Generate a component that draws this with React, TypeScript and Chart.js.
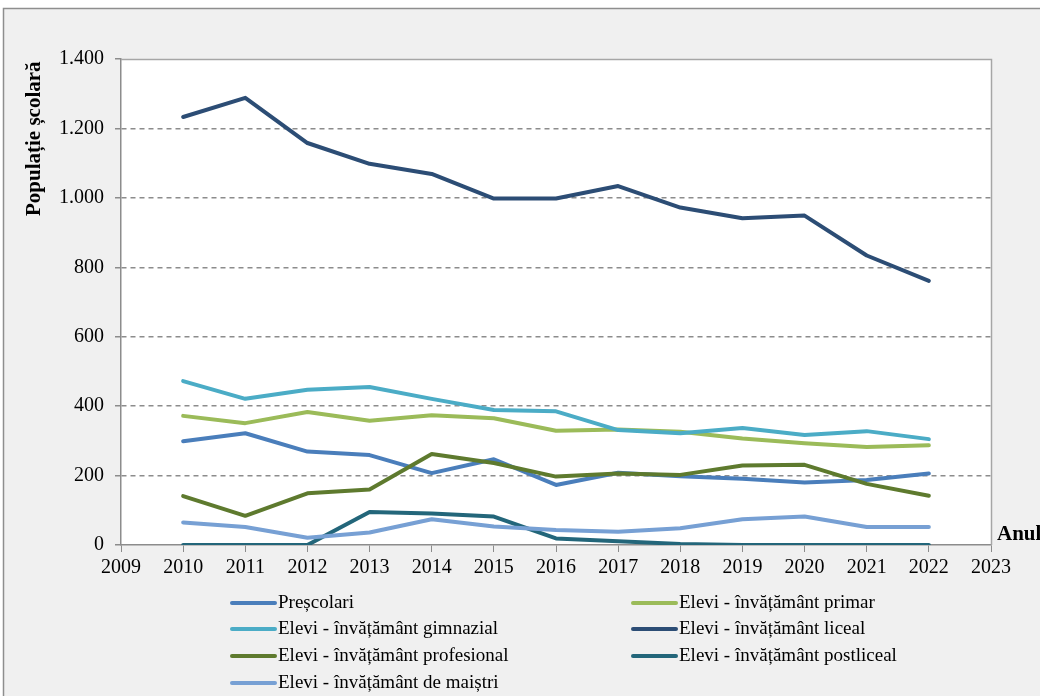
import React, { useEffect, useRef } from "react";
import { Chart, registerables } from "chart.js";

Chart.register(...registerables);

const years = [2010, 2011, 2012, 2013, 2014, 2015, 2016, 2017, 2018, 2019, 2020, 2021, 2022];
const prescolari = [299, 322, 269, 259, 207, 247, 173, 208, 198, 191, 180, 187, 206];
const primar = [372, 351, 383, 358, 374, 365, 329, 333, 326, 307, 293, 282, 287];
const gimnazial = [472, 421, 447, 455, 421, 389, 385, 331, 322, 337, 317, 328, 305];
const liceal = [1233, 1288, 1158, 1098, 1069, 998, 998, 1034, 972, 941, 949, 834, 761];
const profesional = [141, 84, 149, 160, 262, 236, 197, 206, 202, 229, 231, 176, 142];
const postliceal = [0, 0, 0, 95, 91, 82, 19, 11, 3, 0, 0, 0, 0];
const maistri = [65, 52, 21, 36, 74, 53, 43, 38, 48, 74, 82, 52, 52];

const seriesLabels = [
  "Preșcolari",
  "Elevi - învățământ primar",
  "Elevi - învățământ gimnazial",
  "Elevi - învățământ liceal",
  "Elevi - învățământ profesional",
  "Elevi - învățământ postliceal",
  "Elevi - învățământ de maiștri",
];
const seriesValues = [prescolari, primar, gimnazial, liceal, profesional, postliceal, maistri];
const seriesColors = ["#4A7EBB", "#9BBB59", "#4BACC6", "#2C4D75", "#5E7A2E", "#23667A", "#77A0D4"];

const yTitle = "Populație școlară";
const xTitle = "Anul";
const xMin = 2009;
const xMax = 2023;
const yMin = 0;
const yMax = 1400;
const yStep = 200;

const FONT = "'Liberation Serif', 'Times New Roman', serif";

const fmtThousands = (v: number) => {
  const s = String(Math.round(v));
  return s.replace(/\B(?=(\d{3})+(?!\d))/g, ".");
};

const decorPlugin = {
  id: "decor",
  beforeDraw(chart: any) {
    const { ctx, width, height, chartArea } = chart;
    ctx.save();
    ctx.fillStyle = "#ffffff";
    ctx.fillRect(0, 0, width, height);
    ctx.fillStyle = "#f0f0f0";
    ctx.fillRect(3, 8, width - 3, height - 8);
    ctx.strokeStyle = "#8e8e8e";
    ctx.lineWidth = 1.5;
    ctx.strokeRect(3.5, 8.5, width + 10, height + 10);
    ctx.fillStyle = "#ffffff";
    ctx.fillRect(chartArea.left, chartArea.top, chartArea.right - chartArea.left, chartArea.bottom - chartArea.top);
    ctx.restore();
  },
  beforeDatasetsDraw(chart: any) {
    const { ctx, chartArea } = chart;
    ctx.save();
    ctx.strokeStyle = "#a6a6a6";
    ctx.lineWidth = 1.5;
    ctx.beginPath();
    ctx.moveTo(chartArea.left, chartArea.top + 0.5);
    ctx.lineTo(chartArea.right + 0.5, chartArea.top + 0.5);
    ctx.lineTo(chartArea.right + 0.5, chartArea.bottom);
    ctx.stroke();
    ctx.restore();
  },
  afterDraw(chart: any) {
    const { ctx } = chart;
    ctx.save();
    // axis titles
    ctx.fillStyle = "#000000";
    ctx.font = `bold 21px ${FONT}`;
    ctx.translate(35, 216);
    ctx.rotate(-Math.PI / 2);
    ctx.textAlign = "left";
    ctx.textBaseline = "middle";
    ctx.fillText(yTitle, 0, 0);
    ctx.setTransform(1, 0, 0, 1, 0, 0);
    ctx.textAlign = "left";
    ctx.font = `bold 21px ${FONT}`;
    ctx.fillText(xTitle, 997, 535);

    // legend
    const cols = [232, 633];
    const rows = [603, 629, 656, 683];
    ctx.font = `19px ${FONT}`;
    chart.data.datasets.forEach((ds: any, i: number) => {
      const cx = cols[i % 2];
      const cy = rows[Math.floor(i / 2)];
      ctx.strokeStyle = ds.borderColor;
      ctx.lineWidth = 4;
      ctx.lineCap = "round";
      ctx.beginPath();
      ctx.moveTo(cx, cy);
      ctx.lineTo(cx + 43, cy);
      ctx.stroke();
      ctx.fillStyle = "#000000";
      ctx.textBaseline = "middle";
      ctx.fillText(ds.label, cx + 46, cy);
    });
    ctx.restore();
  },
};

export default function App() {
  const ref = useRef<HTMLCanvasElement | null>(null);

  useEffect(() => {
    if (!ref.current) return;
    const datasets = seriesLabels.map((label, i) => ({
      label,
      data: years.map((y, j) => ({ x: y, y: seriesValues[i][j] })),
      borderColor: seriesColors[i],
      backgroundColor: seriesColors[i],
      borderWidth: 4,
      pointRadius: 0,
      pointHoverRadius: 0,
      tension: 0,
      borderJoinStyle: "round" as const,
      borderCapStyle: "round" as const,
      order: seriesLabels.length - i,
    }));

    const chart = new Chart(ref.current, {
      type: "line",
      data: { datasets },
      options: {
        responsive: false,
        animation: false,
        events: [],
        layout: { padding: { left: 0, top: 59, right: 49, bottom: 0 } },
        plugins: {
          legend: { display: false },
          tooltip: { enabled: false },
          title: { display: false },
        },
        scales: {
          x: {
            type: "linear",
            min: xMin,
            max: xMax,
            afterFit: (s: any) => {
              s.height = 151;
            },
            ticks: {
              stepSize: 1,
              autoSkip: false,
              maxRotation: 0,
              padding: 4,
              color: "#000000",
              font: { family: FONT, size: 20 },
              callback: (v: any) => String(v),
            },
            grid: {
              display: true,
              drawOnChartArea: false,
              drawTicks: true,
              tickLength: 7,
              tickColor: "#8c8c8c",
              tickWidth: 1,
            },
            border: { display: true, color: "#8c8c8c", width: 1.5 },
          },
          y: {
            type: "linear",
            min: yMin,
            max: yMax,
            afterFit: (s: any) => {
              s.width = 121;
            },
            ticks: {
              stepSize: yStep,
              padding: 11,
              color: "#000000",
              font: { family: FONT, size: 20 },
              callback: (v: any) => fmtThousands(Number(v)),
            },
            grid: {
              display: true,
              drawOnChartArea: true,
              drawTicks: true,
              tickLength: 6,
              tickColor: "#8c8c8c",
              lineWidth: 1.5,
              color: (c: any) =>
                c.tick && (c.tick.value === yMin || c.tick.value === yMax) ? "rgba(0,0,0,0)" : "#8c8c8c",
            },
            border: { display: true, color: "#8c8c8c", width: 1.5, dash: [5, 4] },
          },
        },
      },
      plugins: [decorPlugin],
    });
    return () => chart.destroy();
  }, []);

  return (
    <div style={{ position: "fixed", left: 0, top: 0, width: 1040, height: 696 }}>
      <canvas ref={ref} width={1040} height={696} style={{ width: 1040, height: 696, display: "block" }} />
    </div>
  );
}
